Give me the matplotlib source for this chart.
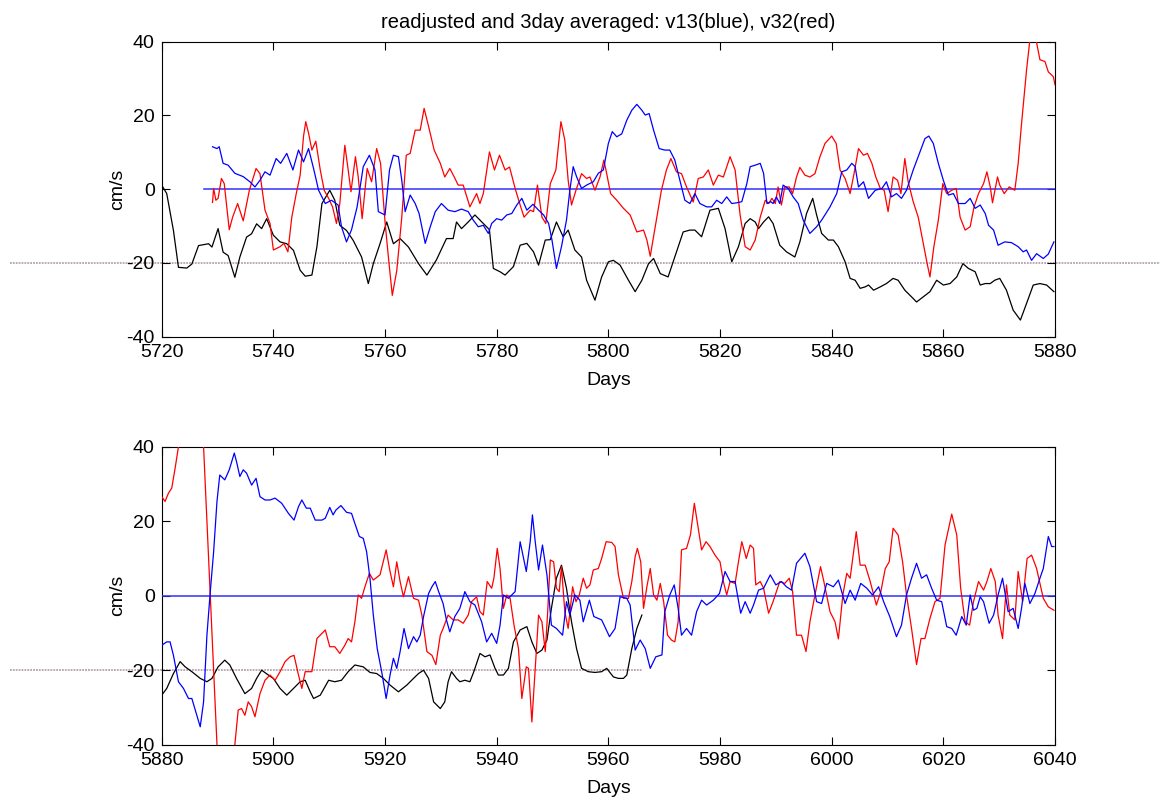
import matplotlib
matplotlib.use("Agg")
import matplotlib.pyplot as plt

# ---- data ----
# top panel: days 5720-5880
top_black_day = [5720.0, 5720.9, 5722.1, 5723.0, 5724.5, 5725.4, 5726.6, 5728.4, 5729.0, 5730.1,
                 5731.0, 5731.9, 5733.1, 5734.0, 5735.2, 5736.1, 5737.0, 5737.9, 5738.8, 5740.0,
                 5741.2, 5742.4, 5743.6, 5744.8, 5745.7, 5746.9, 5747.8, 5748.7, 5750.1, 5751.0,
                 5751.9, 5753.1, 5754.3, 5755.8, 5757.0, 5757.9, 5759.1, 5760.3, 5761.5, 5762.7,
                 5764.2, 5766.0, 5767.5, 5769.2, 5771.0, 5772.2, 5772.8, 5773.7, 5774.9, 5776.1,
                 5777.6, 5778.7, 5779.4, 5780.6, 5781.5, 5783.0, 5784.2, 5785.4, 5786.6, 5787.5,
                 5788.7, 5789.6, 5790.7, 5791.9, 5792.8, 5794.0, 5795.2, 5796.1, 5797.6, 5798.8,
                 5800.0, 5800.9, 5802.1, 5803.6, 5804.8, 5806.0, 5807.2, 5808.1, 5809.3, 5810.7,
                 5811.9, 5813.4, 5814.6, 5815.5, 5816.7, 5818.2, 5819.7, 5820.9, 5822.1, 5823.3,
                 5824.5, 5825.4, 5826.3, 5826.9, 5827.8, 5828.7, 5829.5, 5830.7, 5831.9, 5833.4,
                 5834.3, 5835.5, 5836.6, 5837.3, 5838.2, 5839.4, 5840.3, 5841.2, 5842.4, 5843.3,
                 5844.2, 5845.1, 5846.0, 5846.6, 5847.5, 5848.7, 5849.8, 5851.0, 5851.9, 5853.1,
                 5854.3, 5855.2, 5856.4, 5857.6, 5858.8, 5860.0, 5861.2, 5862.4, 5863.5, 5864.5,
                 5865.7, 5866.6, 5867.5, 5868.4, 5869.2, 5870.1, 5871.3, 5872.5, 5873.8, 5874.9,
                 5876.1, 5877.3, 5878.5, 5879.8]
top_black = [1.1, -1.2, -11.2, -21.2, -21.4, -20.3, -15.3, -14.8, -15.7, -10.7,
             -17.1, -18.0, -23.9, -18.4, -13.0, -12.1, -9.4, -10.7, -8.0, -12.5,
             -14.3, -14.8, -16.6, -22.0, -23.6, -23.3, -15.6, -3.9, -0.3, -3.0,
             -9.8, -11.2, -13.9, -18.4, -25.6, -20.2, -14.8, -8.9, -14.8, -13.4,
             -15.7, -20.2, -23.3, -19.2, -13.4, -13.4, -8.9, -10.7, -8.9, -7.0,
             -9.3, -11.0, -21.5, -22.4, -23.3, -21.0, -15.2, -14.7, -17.0, -20.6,
             -13.8, -13.7, -8.9, -12.9, -11.1, -16.5, -18.4, -24.7, -30.1, -23.8,
             -19.7, -19.3, -20.6, -24.7, -27.8, -24.7, -20.2, -18.8, -22.9, -23.8,
             -18.4, -11.6, -11.1, -11.1, -12.9, -5.7, -5.2, -10.7, -19.7, -15.6,
             -9.3, -8.0, -8.9, -10.7, -8.9, -7.5, -9.3, -15.2, -17.0, -18.4,
             -14.3, -6.6, -2.5, -7.0, -12.0, -13.8, -13.8, -15.6, -19.7, -24.2,
             -24.7, -26.9, -26.5, -26.0, -27.4, -26.5, -25.6, -24.2, -24.7, -27.4,
             -29.2, -30.6, -29.2, -27.8, -24.7, -26.0, -25.6, -23.8, -20.2, -21.5,
             -22.4, -26.0, -25.6, -25.6, -24.7, -24.2, -27.4, -32.8, -35.5, -31.0,
             -26.0, -25.6, -26.0, -27.8]

top_red_day = [5729.1, 5729.3, 5729.7, 5730.1, 5730.7, 5731.2, 5732.1, 5732.7, 5733.6, 5734.6,
               5735.7, 5736.9, 5737.6, 5738.5, 5739.4, 5740.0, 5741.2, 5741.9, 5742.6, 5743.3,
               5744.1, 5744.8, 5745.4, 5745.8, 5746.3, 5746.9, 5747.6, 5748.4, 5749.1, 5749.9,
               5750.6, 5751.3, 5751.9, 5752.8, 5753.4, 5753.9, 5754.7, 5755.2, 5755.9, 5756.8,
               5757.6, 5758.5, 5759.2, 5760.0, 5760.6, 5761.3, 5762.1, 5763.0, 5763.8, 5764.5,
               5765.4, 5766.3, 5767.0, 5767.8, 5768.8, 5769.9, 5770.7, 5771.6, 5772.4, 5773.1,
               5774.0, 5775.2, 5776.4, 5777.0, 5777.6, 5778.7, 5779.6, 5780.5, 5781.5, 5782.3,
               5783.3, 5784.2, 5784.9, 5786.0, 5786.6, 5787.3, 5788.1, 5788.8, 5789.6, 5790.6,
               5791.5, 5792.2, 5792.8, 5793.4, 5794.2, 5795.2, 5796.1, 5796.7, 5797.6, 5798.5,
               5799.2, 5799.7, 5800.4, 5801.5, 5802.7, 5803.9, 5805.1, 5806.3, 5806.9, 5807.5,
               5808.4, 5809.5, 5810.4, 5811.2, 5812.2, 5813.1, 5814.0, 5815.2, 5816.1, 5817.0,
               5817.9, 5818.8, 5819.7, 5820.6, 5821.8, 5822.7, 5823.6, 5824.5, 5825.4, 5826.3,
               5827.2, 5828.1, 5828.7, 5829.3, 5829.9, 5830.4, 5831.0, 5831.6, 5832.4, 5833.0,
               5833.7, 5834.3, 5835.2, 5836.1, 5837.0, 5837.9, 5838.8, 5840.0, 5840.8, 5841.5,
               5842.4, 5843.3, 5844.0, 5844.8, 5845.7, 5846.4, 5847.2, 5847.9, 5848.7, 5849.4,
               5850.1, 5851.0, 5851.8, 5852.4, 5853.1, 5853.7, 5854.6, 5855.5, 5856.4, 5857.1,
               5857.6, 5858.3, 5859.1, 5859.9, 5860.6, 5861.5, 5862.3, 5863.0, 5863.9, 5864.8,
               5865.5, 5866.3, 5867.2, 5867.8, 5868.4, 5868.8, 5869.7, 5870.1, 5870.9, 5871.8,
               5872.8, 5873.4, 5874.0, 5874.9, 5875.5, 5876.1, 5876.6, 5877.3, 5878.2, 5878.8,
               5879.7, 5880.0]
top_red = [-3.6, 0.2, -3.0, -2.5, 2.9, 1.5, -11.0, -7.6, -3.9, -8.6,
           -0.3, 5.6, 4.2, -5.7, -9.3, -16.5, -15.6, -14.7, -17.0, -7.6,
           -1.2, 3.8, 14.3, 18.3, 15.2, 10.6, 13.0, 5.2, -0.3, -2.5,
           -4.8, -9.3, -3.9, 11.9, 5.2, -0.7, 8.8, 3.3, -8.0, 5.6,
           2.0, 11.0, 7.0, -8.9, -18.4, -28.8, -22.1, -7.6, 9.2, 9.7,
           16.0, 16.0, 21.9, 17.0, 10.6, 7.0, 3.3, 5.6, 3.3, 1.1,
           1.1, -4.8, -1.2, -3.9, -1.2, 10.1, 5.2, 9.2, 5.2, 6.0,
           0.2, -4.3, -7.6, -5.7, -6.1, 1.1, -7.6, -9.3, 1.5, 5.2,
           18.3, 13.3, 2.4, -4.3, -0.3, 4.2, 2.9, 3.3, -0.3, 3.3,
           7.9, 4.2, -1.2, -3.0, -5.2, -7.0, -11.6, -11.1, -13.8, -18.2,
           -10.2, -0.3, 5.2, 8.3, 4.7, 4.2, 0.6, -3.5, 2.9, 3.3,
           5.2, 1.1, 3.8, 3.3, 8.8, 5.2, -7.0, -15.6, -16.5, -13.8,
           -7.6, -3.0, -3.9, -2.5, -3.9, 0.6, -4.3, 0.6, 0.6, -1.2,
           3.3, 5.9, 3.8, 3.3, 4.2, 8.8, 12.4, 14.4, 12.4, 5.2,
           2.9, -1.2, 4.2, 11.0, 9.2, 9.7, 7.0, 3.3, 0.2, -0.3,
           -6.1, 3.3, 2.4, -1.2, 8.3, 2.0, -3.4, -7.6, -14.7, -20.2,
           -23.8, -15.6, -8.4, 1.5, -1.2, -0.3, 0.2, -7.6, -11.1, -10.2,
           -4.8, -1.2, 1.5, 4.7, 0.6, -3.7, 3.3, 1.1, -1.2, 0.6,
           -0.3, 7.0, 17.7, 32.3, 40.5, 41.5, 40.5, 35.1, 34.6, 31.8,
           30.5, 28.3]

top_blue_day = [5729.1, 5729.9, 5730.3, 5731.0, 5731.9, 5733.1, 5734.6, 5735.8, 5736.7, 5737.6,
                5738.5, 5739.4, 5740.5, 5741.3, 5742.4, 5743.5, 5744.5, 5745.4, 5746.3, 5747.2,
                5748.1, 5749.3, 5750.4, 5751.6, 5752.2, 5753.1, 5754.0, 5755.0, 5756.1, 5757.2,
                5758.2, 5758.8, 5760.0, 5760.8, 5761.5, 5762.4, 5763.0, 5763.6, 5764.5, 5765.4,
                5766.1, 5767.2, 5768.1, 5769.0, 5770.1, 5771.3, 5772.5, 5773.7, 5774.9, 5775.8,
                5776.7, 5777.6, 5778.5, 5779.1, 5780.0, 5780.9, 5781.8, 5782.7, 5783.6, 5784.5,
                5785.4, 5786.5, 5787.5, 5788.4, 5789.3, 5789.9, 5790.7, 5791.6, 5792.5, 5793.1,
                5793.7, 5794.3, 5795.2, 5796.1, 5797.3, 5798.2, 5799.1, 5800.0, 5800.7, 5801.5,
                5802.4, 5803.3, 5804.2, 5805.1, 5806.0, 5806.6, 5807.3, 5808.1, 5809.1, 5810.1,
                5811.0, 5811.9, 5812.8, 5813.7, 5814.6, 5815.5, 5816.4, 5817.6, 5818.5, 5819.4,
                5820.3, 5821.2, 5822.1, 5823.0, 5823.9, 5824.8, 5825.4, 5826.3, 5827.2, 5827.8,
                5828.4, 5829.1, 5829.5, 5830.1, 5830.7, 5831.3, 5832.2, 5833.1, 5834.0, 5834.9,
                5836.1, 5837.3, 5838.2, 5839.7, 5840.9, 5841.8, 5842.7, 5843.6, 5844.2, 5844.8,
                5845.7, 5846.6, 5847.8, 5849.0, 5849.8, 5850.7, 5851.6, 5852.5, 5853.4, 5854.6,
                5855.8, 5856.7, 5857.4, 5858.2, 5859.1, 5860.0, 5860.9, 5861.8, 5862.7, 5863.9,
                5864.8, 5865.7, 5866.6, 5867.5, 5868.1, 5869.0, 5869.8, 5871.0, 5872.2, 5873.4,
                5874.3, 5874.9, 5875.8, 5876.7, 5877.9, 5878.8, 5879.8]
top_blue = [11.5, 11.0, 11.5, 7.0, 6.5, 4.3, 3.4, 2.0, 0.6, 2.4,
            4.7, 3.8, 8.3, 7.0, 9.7, 5.2, 10.6, 7.4, 11.0, 5.6,
            -0.3, -3.9, -3.0, -4.3, -10.2, -14.3, -11.0, -4.8, 6.1, 9.2,
            5.2, -6.1, -7.0, 5.2, 9.2, 8.8, 2.4, -6.1, -1.6, -3.9,
            -6.6, -14.7, -10.2, -6.1, -3.9, -5.7, -6.1, -5.4, -6.1, -8.4,
            -10.2, -9.8, -12.0, -9.3, -8.0, -8.4, -7.0, -6.6, -4.3, -2.5,
            -5.7, -4.1, -5.7, -7.0, -9.3, -13.8, -21.5, -15.6, -8.4, -0.3,
            6.1, 3.4, 0.2, 1.1, 2.0, 4.3, 5.2, 12.4, 15.6, 14.2,
            15.0, 18.7, 21.4, 23.0, 21.4, 20.1, 20.5, 16.0, 11.0, 10.6,
            10.6, 7.9, 2.4, -3.0, -3.9, -1.2, -3.9, -4.8, -4.8, -3.0,
            -3.9, -2.1, -3.9, -3.7, -3.4, 1.5, 6.1, 6.5, 7.0, 4.3,
            -3.9, -3.4, -3.9, -2.1, -3.9, 1.1, 0.2, -2.1, -3.9, -8.4,
            -12.0, -10.2, -8.4, -4.8, -1.2, 4.7, 5.2, 7.0, 6.1, 0.6,
            2.0, -2.5, -0.3, 0.2, 2.0, -2.1, -1.2, -2.5, -0.3, 5.2,
            10.1, 13.7, 14.4, 12.4, 7.0, 2.4, -1.6, -1.2, -3.9, -3.9,
            -2.5, -5.2, -4.3, -6.6, -9.8, -11.1, -15.2, -14.3, -14.5, -15.6,
            -17.0, -16.5, -19.3, -17.5, -18.8, -17.6, -14.3]

# bottom panel: days 5880-6040
bot_black_day = [5880.0, 5880.9, 5882.1, 5883.3, 5884.2, 5885.4, 5886.9, 5888.1, 5889.0, 5890.1,
                 5891.3, 5892.2, 5893.4, 5894.9, 5896.1, 5897.0, 5897.9, 5899.1, 5900.0, 5901.2,
                 5902.4, 5903.6, 5904.8, 5905.7, 5906.6, 5907.2, 5908.4, 5909.9, 5911.0, 5912.2,
                 5913.4, 5914.6, 5916.1, 5917.3, 5918.5, 5919.7, 5920.9, 5922.4, 5923.9, 5925.1,
                 5926.0, 5926.9, 5927.8, 5928.7, 5929.9, 5930.7, 5931.3, 5931.9, 5932.8, 5933.4,
                 5934.3, 5935.2, 5935.9, 5937.0, 5937.9, 5938.8, 5939.7, 5940.3, 5941.2, 5942.1,
                 5943.0, 5944.2, 5945.4, 5946.3, 5947.2, 5948.1, 5949.0, 5949.8, 5950.7, 5951.6,
                 5952.5, 5953.4, 5954.3, 5955.2, 5956.4, 5957.6, 5958.8, 5959.7, 5960.9, 5961.8,
                 5962.7, 5963.3, 5964.2, 5965.1, 5966.0]
bot_black = [-26.7, -24.9, -20.9, -17.7, -19.1, -20.4, -22.2, -23.1, -22.2, -19.1,
             -17.3, -18.6, -22.2, -26.3, -24.9, -22.2, -20.0, -21.3, -22.2, -24.9,
             -26.7, -24.9, -23.1, -22.7, -25.8, -27.6, -26.7, -22.7, -23.1, -22.7,
             -20.4, -18.6, -19.1, -20.6, -20.9, -22.2, -24.0, -25.8, -24.0, -22.2,
             -20.9, -20.0, -22.2, -28.5, -30.3, -28.5, -23.1, -20.4, -22.2, -23.1,
             -22.7, -23.1, -20.4, -15.5, -16.4, -15.9, -19.5, -21.3, -21.3, -19.5,
             -12.4, -9.2, -8.3, -12.4, -15.5, -14.6, -11.9, -3.4, 4.7, 8.2,
             2.0, -7.0, -14.2, -19.5, -20.4, -20.6, -20.4, -19.5, -21.8, -22.2,
             -22.2, -21.3, -14.2, -8.8, -5.2]

bot_red_day = [5880.0, 5880.6, 5881.2, 5881.8, 5882.4, 5883.0, 5884.5, 5886.5, 5887.5, 5888.7,
               5889.9, 5891.5, 5893.1, 5893.7, 5894.3, 5894.9, 5895.5, 5896.1, 5896.7, 5897.6,
               5898.5, 5899.4, 5900.3, 5901.2, 5902.1, 5903.0, 5903.7, 5904.5, 5905.1, 5905.7,
               5906.9, 5907.8, 5909.3, 5910.1, 5911.0, 5911.9, 5912.8, 5913.4, 5914.0, 5914.6,
               5915.2, 5915.8, 5916.4, 5917.2, 5917.9, 5919.1, 5920.2, 5920.9, 5921.5, 5922.1,
               5922.7, 5923.3, 5924.2, 5925.1, 5926.0, 5926.6, 5927.5, 5928.4, 5929.1, 5929.9,
               5930.4, 5931.3, 5932.2, 5933.1, 5934.0, 5934.9, 5935.5, 5936.4, 5937.0, 5937.6,
               5938.3, 5939.1, 5939.5, 5940.1, 5940.6, 5941.2, 5941.8, 5942.4, 5943.1, 5943.9,
               5944.5, 5945.3, 5945.7, 5946.3, 5946.9, 5947.5, 5948.1, 5948.7, 5949.1, 5949.6,
               5950.2, 5950.7, 5951.2, 5951.6, 5952.2, 5952.8, 5953.6, 5954.2, 5954.8, 5955.5,
               5956.1, 5956.7, 5957.3, 5958.2, 5958.8, 5959.6, 5960.6, 5961.2, 5961.8, 5962.7,
               5963.6, 5964.2, 5964.8, 5965.2, 5965.8, 5966.3, 5966.9, 5967.5, 5968.1, 5968.7,
               5969.3, 5969.9, 5970.6, 5971.3, 5971.9, 5972.5, 5973.1, 5974.0, 5974.7, 5975.4,
               5976.1, 5976.7, 5977.5, 5978.2, 5979.1, 5980.0, 5980.6, 5981.2, 5981.8, 5982.7,
               5983.3, 5983.9, 5984.7, 5985.4, 5986.0, 5986.4, 5987.2, 5987.8, 5988.7, 5989.5,
               5990.7, 5991.6, 5992.4, 5993.0, 5993.7, 5994.6, 5995.4, 5996.1, 5997.0, 5998.0,
               5998.6, 5999.7, 6000.6, 6001.2, 6002.0, 6002.7, 6003.3, 6004.4, 6005.1, 6006.0,
               6006.9, 6008.0, 6008.8, 6009.6, 6010.3, 6011.0, 6011.9, 6012.7, 6013.4, 6014.3,
               6015.2, 6016.0, 6016.7, 6017.6, 6018.5, 6019.4, 6020.3, 6021.5, 6022.4, 6023.1,
               6023.9, 6024.7, 6025.4, 6026.3, 6027.2, 6027.8, 6028.5, 6029.3, 6029.8, 6030.6,
               6031.3, 6031.9, 6032.8, 6033.4, 6034.2, 6035.0, 6035.8, 6036.7, 6037.9, 6038.8,
               6039.8]
bot_red = [26.6, 25.3, 27.5, 28.9, 34.2, 40.0, 52.0, 50.0, 40.0, 0.0,
           -40.0, -55.0, -40.0, -30.7, -30.3, -32.1, -28.5, -29.8, -32.5, -26.3,
           -22.7, -21.3, -22.7, -20.4, -17.7, -16.4, -16.0, -21.3, -24.9, -20.4,
           -20.4, -11.5, -9.2, -13.7, -13.7, -15.5, -13.3, -11.5, -12.4, -7.0,
           0.2, -0.7, 2.4, 6.0, 4.2, 5.6, 12.3, 6.5, 2.4, 9.1,
           3.8, -0.3, 5.1, -0.7, -1.2, -5.2, -15.0, -16.0, -18.5, -10.6,
           -8.8, -5.2, -6.5, -6.5, -7.4, -5.2, -1.6, -0.3, -4.3, -5.2,
           3.8, 2.0, 4.7, 12.7, 7.3, -3.4, 0.2, -0.7, -7.9, -14.2,
           -27.6, -19.1, -19.5, -33.9, -19.5, -5.2, -7.0, -15.0, -5.2, 9.6,
           9.1, 2.0, 1.1, 7.8, -4.3, -8.8, 2.4, -1.6, 0.2, 4.7,
           2.0, 2.9, 6.9, 7.3, 10.0, 14.5, 14.3, 13.2, 5.6, -0.7,
           -0.7, 3.8, 10.5, 12.7, 9.1, -3.4, 2.4, 7.3, 0.2, -1.2,
           3.3, -1.6, -10.6, -11.9, -12.4, -7.0, 12.3, 12.7, 16.3, 24.8,
           18.1, 12.3, 14.5, 13.2, 10.9, 9.1, 3.8, 0.2, 3.8, 3.3,
           9.1, 14.5, 10.0, 13.6, 12.7, 2.9, 3.8, 2.0, -4.7, -1.6,
           3.8, 3.3, 4.7, 1.1, -10.6, -10.6, -15.0, -7.0, 0.2, 7.8,
           3.8, -4.3, -7.0, -11.6, 0.2, 6.0, 4.7, 17.2, 8.2, 8.2,
           3.8, -2.5, 1.1, 7.3, 9.1, 18.1, 16.3, 9.1, 0.2, -8.8,
           -18.5, -11.5, -11.5, -6.1, -1.6, -0.7, 13.6, 21.9, 16.3, 2.0,
           -7.0, -7.9, -1.6, 3.8, 1.5, 3.8, 7.3, 3.8, -5.2, -11.5,
           2.9, -5.2, -6.5, 6.5, -1.6, 10.0, 10.9, 7.3, -0.7, -3.0,
           -3.9]

bot_blue_day = [5880.0, 5880.9, 5881.5, 5882.1, 5883.0, 5883.9, 5884.8, 5885.4, 5886.3, 5886.9,
                5887.5, 5888.1, 5888.7, 5889.3, 5889.9, 5890.4, 5891.3, 5892.1, 5893.0, 5893.4,
                5894.0, 5894.6, 5895.2, 5896.1, 5896.9, 5897.6, 5898.5, 5899.4, 5900.3, 5901.5,
                5902.7, 5903.7, 5904.5, 5905.1, 5905.9, 5906.6, 5907.5, 5908.7, 5909.3, 5910.1,
                5910.7, 5911.2, 5912.1, 5913.1, 5914.0, 5914.6, 5915.4, 5916.1, 5916.7, 5917.3,
                5917.9, 5918.6, 5919.4, 5920.2, 5920.9, 5921.5, 5922.1, 5922.7, 5923.4, 5924.2,
                5925.1, 5925.7, 5926.3, 5926.9, 5927.8, 5928.4, 5929.0, 5929.6, 5930.4, 5931.0,
                5931.6, 5932.5, 5933.4, 5934.3, 5935.2, 5936.1, 5937.3, 5938.2, 5939.1, 5940.0,
                5940.6, 5941.2, 5942.1, 5943.3, 5944.2, 5945.3, 5946.0, 5946.4, 5946.9, 5947.5,
                5948.2, 5949.0, 5949.8, 5950.7, 5951.8, 5952.5, 5953.1, 5954.0, 5954.9, 5955.5,
                5956.6, 5957.4, 5958.8, 5960.2, 5961.2, 5962.1, 5963.3, 5963.9, 5964.8, 5965.7,
                5966.6, 5967.5, 5968.5, 5969.6, 5970.1, 5971.0, 5971.8, 5972.5, 5973.1, 5974.0,
                5974.9, 5975.8, 5976.7, 5977.6, 5978.8, 5979.9, 5980.9, 5981.8, 5982.7, 5983.7,
                5984.5, 5985.4, 5986.0, 5986.9, 5987.8, 5989.0, 5990.0, 5991.0, 5991.9, 5992.8,
                5993.7, 5995.2, 5996.1, 5997.3, 5998.2, 5999.1, 6000.3, 6001.2, 6002.4, 6003.3,
                6004.2, 6005.2, 6006.3, 6007.3, 6008.4, 6009.3, 6010.4, 6011.6, 6012.5, 6013.4,
                6014.3, 6015.2, 6016.1, 6017.0, 6017.9, 6018.8, 6019.7, 6020.6, 6021.5, 6022.3,
                6023.3, 6024.1, 6024.8, 6025.4, 6026.0, 6026.6, 6027.2, 6028.2, 6029.0, 6029.8,
                6030.6, 6031.0, 6031.6, 6032.5, 6033.4, 6034.0, 6034.6, 6035.5, 6036.4, 6037.3,
                6037.9, 6038.8, 6039.4, 6039.8]
bot_blue = [-13.3, -12.4, -12.4, -16.0, -23.1, -24.9, -27.6, -27.6, -32.1, -35.2,
            -28.5, -10.6, 1.1, 11.8, 25.3, 32.4, 31.1, 33.8, 38.3, 36.0,
            32.0, 33.8, 32.9, 29.7, 31.5, 26.6, 25.7, 25.7, 26.2, 24.8,
            22.1, 20.3, 23.9, 25.7, 23.5, 23.5, 20.3, 20.3, 20.8, 23.7,
            21.7, 23.0, 24.2, 22.4, 22.1, 19.4, 15.9, 15.4, 11.8, 4.7,
            -5.2, -14.2, -20.4, -27.6, -21.3, -16.8, -19.5, -15.0, -8.8, -14.2,
            -11.0, -12.4, -10.6, -5.6, 0.6, 2.4, 3.8, 1.1, -2.1, -6.5,
            -9.7, -5.6, -3.4, 1.1, -1.6, -2.5, -7.0, -12.4, -10.1, -12.8,
            -7.9, 0.2, -0.7, 1.1, 14.5, 6.5, 14.5, 21.7, 14.5, 6.9,
            13.6, 5.6, -7.9, -8.8, -10.6, -1.6, -5.2, 0.2, -1.2, -7.0,
            -1.2, -5.6, -6.5, -11.0, -8.8, -0.3, -0.7, -2.5, -14.6, -11.9,
            -14.2, -19.5, -16.4, -15.9, -4.3, 0.2, 2.9, -3.4, -10.6, -8.8,
            -10.6, -4.3, -1.2, -2.5, -1.2, 0.6, 6.5, 3.8, 3.8, -4.7,
            -1.6, -4.7, -2.5, 1.5, 2.0, 5.6, 2.9, 3.8, 2.4, 1.5,
            8.7, 11.4, 7.8, -1.6, -2.1, 3.3, 2.4, 4.2, -2.1, 1.5,
            -1.2, 3.3, 2.0, 0.2, 2.4, -1.6, -5.6, -11.0, -7.9, 0.2,
            4.7, 8.7, 4.7, 5.6, 2.0, -1.2, -1.6, -8.3, -8.8, -10.6,
            -5.6, -7.9, 0.2, -3.9, -3.4, -0.3, -1.6, -7.4, -5.2, 0.2,
            4.7, 1.1, -4.3, -3.4, -8.8, -3.4, 3.3, -2.1, 0.6, 4.7,
            7.3, 15.9, 13.2, 13.2]

title = "readjusted and 3day averaged: v13(blue), v32(red)"
top_xlim = (5720, 5880)
bot_xlim = (5880, 6040)
zero_top = (5727.5, 5880)
zero_bot = (5880, 6040)
ref_top = (5692.8, 5898.8)
ref_bot = (5852.8, 5966.0)

# ---- plot ----
plt.rcParams['font.family'] = ['Liberation Sans', 'DejaVu Sans']
plt.rcParams['axes.unicode_minus'] = False

fig = plt.figure(figsize=(11.6, 8.01), dpi=100)
ax1 = fig.add_axes([0.1394, 0.5797, 0.7701, 0.3683])
ax2 = fig.add_axes([0.1394, 0.0703, 0.7701, 0.3720])

panels = [
    (ax1, top_xlim, top_black_day, top_black, top_blue_day, top_blue, top_red_day, top_red, zero_top, ref_top),
    (ax2, bot_xlim, bot_black_day, bot_black, bot_blue_day, bot_blue, bot_red_day, bot_red, zero_bot, ref_bot),
]

for ax, xl, kd, kv, bd, bv, rd, rv, zl, rl in panels:
    ax.plot(rl, [-20, -20], color='#b8a0b0', lw=1.3, ls=(0, (1, 0.6)), clip_on=False, zorder=1)
    ax.plot(kd, kv, color='k', lw=0.9, zorder=2)
    ax.plot(zl, [0, 0], color='#3030ff', lw=1.1, zorder=3)
    ax.plot(rd, rv, color='#ff0000', lw=0.9, zorder=4)
    ax.plot(bd, bv, color='#0000ff', lw=0.9, zorder=5)
    ax.set_xlim(xl)
    ax.set_ylim(-40, 40)
    ax.set_xticks(range(xl[0], xl[1] + 1, 20))
    ax.set_yticks(range(-40, 41, 20))
    ax.tick_params(direction='in', length=6, width=0.8, top=True, right=True, labelsize=14, pad=5)
    for s in ax.spines.values():
        s.set_linewidth(0.8)
    ax.set_xlabel('Days', fontsize=14, labelpad=8)
    ax.set_ylabel('cm/s', fontsize=14, labelpad=0)

ax1.set_title(title, fontsize=14.5, pad=10)

fig.savefig('out.png', dpi=100)
